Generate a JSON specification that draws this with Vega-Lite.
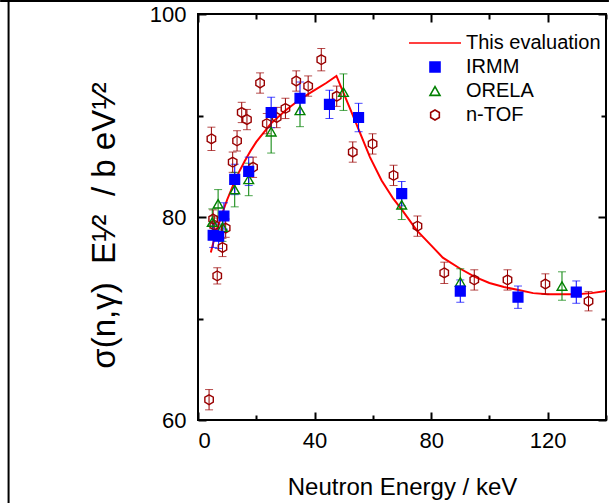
{
  "$schema": "https://vega.github.io/schema/vega-lite/v6.json",
  "width": 408,
  "height": 406,
  "autosize": {"type": "none"},
  "padding": {"left": 198, "top": 14, "right": 3, "bottom": 83},
  "background": "white",
  "config": {
    "font": "Liberation Sans",
    "view": {"stroke": "#000", "strokeWidth": 2},
    "axis": {
      "domain": false, "grid": false, "tickColor": "#000", "tickWidth": 2,
      "labelColor": "#000", "titleColor": "#000", "labelFont": "Liberation Sans",
      "titleFont": "Liberation Sans", "labelFontSize": 22, "titleFontWeight": "normal"
    },
    "legend": {"labelFont": "Liberation Sans", "labelFontSize": 20, "labelColor": "#000"}
  },
  "datasets": {
    "curve": [
      {"series": "This evaluation", "E": 4.4, "y": 76.5},
      {"series": "This evaluation", "E": 6, "y": 78.3},
      {"series": "This evaluation", "E": 8, "y": 80.1},
      {"series": "This evaluation", "E": 10, "y": 81.7},
      {"series": "This evaluation", "E": 12, "y": 83.1},
      {"series": "This evaluation", "E": 14, "y": 84.4},
      {"series": "This evaluation", "E": 16, "y": 85.5},
      {"series": "This evaluation", "E": 18, "y": 86.5},
      {"series": "This evaluation", "E": 20, "y": 87.4},
      {"series": "This evaluation", "E": 25, "y": 89.2},
      {"series": "This evaluation", "E": 30, "y": 90.5},
      {"series": "This evaluation", "E": 35, "y": 91.6},
      {"series": "This evaluation", "E": 40, "y": 92.5},
      {"series": "This evaluation", "E": 44, "y": 93.2},
      {"series": "This evaluation", "E": 47.5, "y": 93.9},
      {"series": "This evaluation", "E": 53, "y": 90.1},
      {"series": "This evaluation", "E": 59, "y": 85.9},
      {"series": "This evaluation", "E": 63, "y": 83.6},
      {"series": "This evaluation", "E": 67, "y": 81.8},
      {"series": "This evaluation", "E": 70, "y": 80.7},
      {"series": "This evaluation", "E": 75, "y": 78.7},
      {"series": "This evaluation", "E": 80, "y": 77.2},
      {"series": "This evaluation", "E": 84, "y": 76.0},
      {"series": "This evaluation", "E": 90, "y": 74.9},
      {"series": "This evaluation", "E": 95, "y": 74.1},
      {"series": "This evaluation", "E": 100, "y": 73.5},
      {"series": "This evaluation", "E": 105, "y": 73.1},
      {"series": "This evaluation", "E": 110, "y": 72.8},
      {"series": "This evaluation", "E": 115, "y": 72.5},
      {"series": "This evaluation", "E": 120, "y": 72.4},
      {"series": "This evaluation", "E": 130, "y": 72.4},
      {"series": "This evaluation", "E": 135, "y": 72.5},
      {"series": "This evaluation", "E": 140, "y": 72.7}
    ],
    "pts": [
      {"series": "n-TOF", "E": 3.8, "y": 62.0, "err": 1.0},
      {"series": "n-TOF", "E": 4.6, "y": 87.7, "err": 1.15},
      {"series": "n-TOF", "E": 5.2, "y": 79.8, "err": 0.9},
      {"series": "n-TOF", "E": 5.6, "y": 79.2, "err": 0.9},
      {"series": "n-TOF", "E": 6.6, "y": 74.2, "err": 0.8},
      {"series": "n-TOF", "E": 8.4, "y": 77.0, "err": 0.9},
      {"series": "n-TOF", "E": 9.5, "y": 78.9, "err": 0.9},
      {"series": "n-TOF", "E": 11.9, "y": 85.4, "err": 1.0},
      {"series": "n-TOF", "E": 13.4, "y": 87.5, "err": 1.0},
      {"series": "n-TOF", "E": 15.0, "y": 90.3, "err": 1.0},
      {"series": "n-TOF", "E": 16.8, "y": 89.6, "err": 1.0},
      {"series": "n-TOF", "E": 18.9, "y": 84.9, "err": 1.0},
      {"series": "n-TOF", "E": 21.3, "y": 93.2, "err": 1.0},
      {"series": "n-TOF", "E": 23.6, "y": 89.2, "err": 1.0},
      {"series": "n-TOF", "E": 27.0, "y": 89.8, "err": 1.0},
      {"series": "n-TOF", "E": 30.0, "y": 90.7, "err": 1.0},
      {"series": "n-TOF", "E": 33.7, "y": 93.4, "err": 1.0},
      {"series": "n-TOF", "E": 37.8, "y": 92.9, "err": 1.0},
      {"series": "n-TOF", "E": 42.3, "y": 95.5, "err": 1.1},
      {"series": "n-TOF", "E": 47.6, "y": 91.9, "err": 1.0},
      {"series": "n-TOF", "E": 53.1, "y": 86.4, "err": 1.0},
      {"series": "n-TOF", "E": 59.9, "y": 87.2, "err": 1.0},
      {"series": "n-TOF", "E": 67.1, "y": 84.1, "err": 1.0},
      {"series": "n-TOF", "E": 75.3, "y": 79.1, "err": 1.0},
      {"series": "n-TOF", "E": 84.5, "y": 74.5, "err": 1.05},
      {"series": "n-TOF", "E": 94.8, "y": 73.8, "err": 1.0},
      {"series": "n-TOF", "E": 106.2, "y": 73.8, "err": 1.0},
      {"series": "n-TOF", "E": 119.2, "y": 73.4, "err": 1.0},
      {"series": "n-TOF", "E": 134.0, "y": 71.7, "err": 0.95},
      {"series": "ORELA", "E": 4.9, "y": 79.5, "err": 1.3},
      {"series": "ORELA", "E": 6.9, "y": 81.3, "err": 1.4},
      {"series": "ORELA", "E": 8.4, "y": 79.0, "err": 1.4},
      {"series": "ORELA", "E": 12.6, "y": 82.7, "err": 1.7},
      {"series": "ORELA", "E": 17.4, "y": 83.7, "err": 1.6},
      {"series": "ORELA", "E": 25.1, "y": 88.4, "err": 2.1},
      {"series": "ORELA", "E": 35.0, "y": 90.5, "err": 1.6},
      {"series": "ORELA", "E": 49.9, "y": 92.3, "err": 1.8},
      {"series": "ORELA", "E": 69.9, "y": 81.2, "err": 1.45},
      {"series": "ORELA", "E": 90.0, "y": 73.6, "err": 1.3},
      {"series": "ORELA", "E": 124.9, "y": 73.2, "err": 1.4},
      {"series": "IRMM", "E": 5.2, "y": 78.2, "err": 1.2},
      {"series": "IRMM", "E": 7.1, "y": 78.1, "err": 1.2},
      {"series": "IRMM", "E": 8.9, "y": 80.1, "err": 1.3},
      {"series": "IRMM", "E": 12.6, "y": 83.7, "err": 1.5},
      {"series": "IRMM", "E": 17.4, "y": 84.5, "err": 1.4},
      {"series": "IRMM", "E": 25.1, "y": 90.3, "err": 1.5},
      {"series": "IRMM", "E": 35.0, "y": 91.7, "err": 1.6},
      {"series": "IRMM", "E": 45.1, "y": 91.1, "err": 1.4},
      {"series": "IRMM", "E": 55.1, "y": 89.8, "err": 1.4},
      {"series": "IRMM", "E": 69.9, "y": 82.3, "err": 1.2},
      {"series": "IRMM", "E": 90.0, "y": 72.7, "err": 1.1},
      {"series": "IRMM", "E": 109.8, "y": 72.1, "err": 1.1},
      {"series": "IRMM", "E": 129.8, "y": 72.6, "err": 1.1}
    ]
  },
  "layer": [
    {
      "data": {"values": [{}]},
      "mark": {"type": "rule", "color": "#000", "strokeWidth": 2, "clip": false},
      "encoding": {
        "x": {"datum": -65.0, "type": "quantitative", "axis": null},
        "y": {"datum": 101.38, "type": "quantitative", "axis": null},
        "y2": {"datum": 51.8}
      }
    },
    {
      "data": {"values": [{}]},
      "mark": {"type": "rule", "color": "#000", "strokeWidth": 2, "clip": false},
      "encoding": {
        "x": {"datum": -67.9, "type": "quantitative", "axis": null},
        "x2": {"datum": 141.0},
        "y": {"datum": 101.28, "type": "quantitative", "axis": null}
      }
    },
    {
      "data": {"name": "curve"},
      "mark": {"type": "line", "strokeWidth": 2, "clip": true, "color": "#ff0000"},
      "encoding": {
        "x": {
          "field": "E", "type": "quantitative",
          "scale": {"domain": [0, 140], "nice": false},
          "axis": {
            "orient": "top", "labels": false, "title": null,
            "values": [0, 20, 40, 60, 80, 100, 120, 140],
            "tickSize": {"condition": {"test": "datum.value % 40 === 0", "value": -8}, "value": -5}
          }
        },
        "y": {
          "field": "y", "type": "quantitative",
          "scale": {"domain": [60, 100], "nice": false, "zero": false},
          "axis": {
            "orient": "right", "labels": false, "title": null,
            "values": [60, 70, 80, 90, 100],
            "tickSize": {"condition": {"test": "datum.value % 20 === 0", "value": -8}, "value": -5}
          }
        }
      }
    },
    {
      "data": {"name": "pts"},
      "mark": {"type": "errorbar", "ticks": {"size": 8}, "thickness": 1},
      "encoding": {
        "x": {"field": "E", "type": "quantitative", "axis": null},
        "y": {"field": "y", "type": "quantitative", "axis": null},
        "yError": {"field": "err"},
        "color": {
          "field": "series", "type": "nominal", "legend": null,
          "scale": {
            "domain": ["This evaluation", "IRMM", "ORELA", "n-TOF"],
            "range": ["#ff0000", "#0000ff", "#008000", "#990000"]
          }
        }
      }
    },
    {
      "data": {"name": "pts"},
      "mark": {"type": "point", "filled": false, "size": 95, "strokeWidth": 1.4, "opacity": 1},
      "encoding": {
        "x": {
          "field": "E", "type": "quantitative",
          "axis": {
            "orient": "bottom", "title": "Neutron Energy / keV", "titleFontSize": 24,
            "titlePadding": 24,
            "values": [0, 20, 40, 60, 80, 100, 120, 140],
            "labelExpr": "datum.value % 40 === 0 ? datum.label : ''",
            "labelPadding": 18,
            "tickSize": {"condition": {"test": "datum.value % 40 === 0", "value": -8}, "value": -5}
          }
        },
        "y": {
          "field": "y", "type": "quantitative",
          "axis": {
            "orient": "left", "title": "σ(n,γ)\u00a0\u00a0E¹⁄²\u00a0\u00a0/\u00a0b\u00a0eV¹⁄²", "titleFontSize": 33,
            "titlePadding": 28, "titleY": 211,
            "values": [60, 70, 80, 90, 100],
            "labelExpr": "datum.value % 20 === 0 ? datum.label : ''",
            "labelPadding": 20,
            "tickSize": {"condition": {"test": "datum.value % 20 === 0", "value": -8}, "value": -5}
          }
        },
        "color": {
          "field": "series", "type": "nominal",
          "scale": {
            "domain": ["This evaluation", "IRMM", "ORELA", "n-TOF"],
            "range": ["#ff0000", "#0000ff", "#008000", "#990000"]
          },
          "legend": {
            "title": null, "orient": "none", "legendX": 227, "legendY": 19,
            "symbolSize": 100, "labelOffset": 21, "rowPadding": 4,
            "symbolStrokeWidth": 1.6, "symbolFillColor": "transparent"
          }
        },
        "shape": {
          "field": "series", "type": "nominal",
          "scale": {
            "domain": ["This evaluation", "IRMM", "ORELA", "n-TOF"],
            "range": ["M-5.2,0L5.2,0", "square", "triangle-up", "M0,-1L0.866,-0.5L0.866,0.5L0,1L-0.866,0.5L-0.866,-0.5Z"]
          }
        },
        "fill": {
          "field": "series", "type": "nominal",
          "scale": {
            "domain": ["This evaluation", "IRMM", "ORELA", "n-TOF"],
            "range": ["transparent", "#0000ff", "transparent", "transparent"]
          }
        }
      }
    }
  ],
  "resolve": {
    "axis": {"x": "independent", "y": "independent"},
    "scale": {"color": "independent", "shape": "independent", "fill": "independent"}
  }
}
